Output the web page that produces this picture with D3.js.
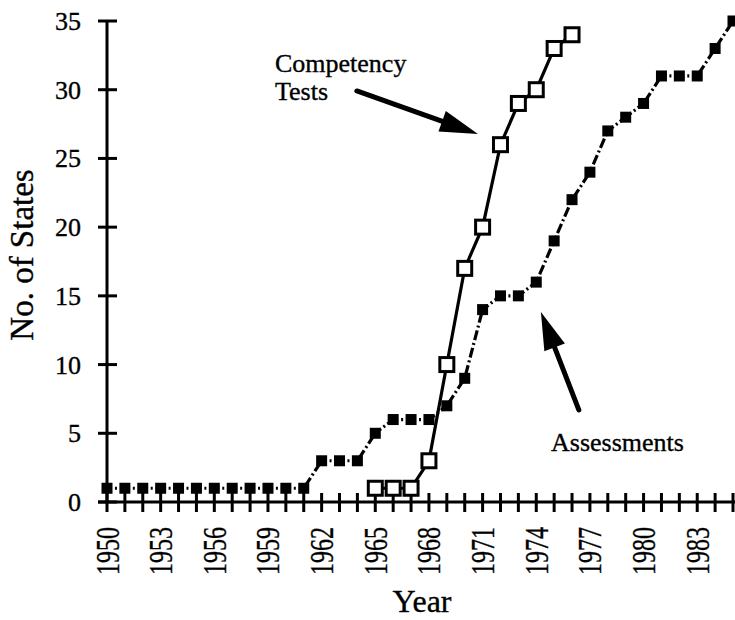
<!DOCTYPE html>
<html>
<head>
<meta charset="utf-8">
<script src="https://cdn.jsdelivr.net/npm/d3@7"></script>
<style>
  html, body { margin: 0; padding: 0; background: #fff; }
  text { font-family: 'Liberation Serif', 'Times New Roman', serif; fill: #000; stroke: #000; stroke-width: 0.35px; }
</style>
</head>
<body>
<div id="chart"></div>
<script>
// Data
const years = d3.range(1950, 1986);
const assessYears = d3.range(1950, 1986);
const assessValues = [1, 1, 1, 1, 1, 1, 1, 1, 1, 1, 1, 1, 3, 3, 3, 5, 6, 6, 6, 7,
  9, 14, 15, 15, 16, 19, 22, 24, 27, 28, 29, 31, 31, 31, 33, 35];
const compYears = d3.range(1965, 1977);
const compValues = [1, 1, 1, 3, 10, 17, 20, 26, 29, 30, 33, 34];
const yTicks = [0, 5, 10, 15, 20, 25, 30, 35];
const xLabelYears = [1950, 1953, 1956, 1959, 1962, 1965, 1968, 1971, 1974, 1977, 1980, 1983];

// Annotation arrows, in data units: [tail, tip]
const compArrow = [[1963.97, 29.91], [1970.74, 26.78]];
const assessArrow = [[1976.38, 6.70], [1974.26, 13.83]];

const width = 735, height = 620;
const svg = d3.select('#chart').append('svg')
  .attr('width', width)
  .attr('height', height);

const x = d3.scaleLinear().domain([1950, 1985]).range([107, 733]);
const y = d3.scaleLinear().domain([0, 35]).range([502, 21]);

// Axes (drawn by hand so ticks cross the line)
const axis = svg.append('g').attr('stroke', '#000').attr('stroke-width', 3);
axis.append('line')
  .attr('x1', x(1950)).attr('x2', x(1950))
  .attr('y1', y(35)).attr('y2', y(0));
axis.append('line')
  .attr('x1', x(1950) - 9).attr('x2', width)
  .attr('y1', y(0)).attr('y2', y(0));
axis.selectAll('.yt').data(yTicks).enter().append('line')
  .attr('x1', x(1950) - 9).attr('x2', x(1950) + 10)
  .attr('y1', d => y(d)).attr('y2', d => y(d));
axis.selectAll('.xt').data(years).enter().append('line')
  .attr('x1', d => x(d)).attr('x2', d => x(d))
  .attr('y1', y(0) - 9).attr('y2', y(0) + 10);

svg.selectAll('.ylab').data(yTicks).enter().append('text')
  .attr('x', 81)
  .attr('y', d => y(d))
  .attr('dy', 9)
  .attr('text-anchor', 'end')
  .attr('font-size', 26)
  .text(d => d);

svg.selectAll('.xlab').data(xLabelYears).enter().append('text')
  .attr('transform', d => `translate(${x(d)},527) rotate(-90)`)
  .attr('dy', 11.5)
  .attr('text-anchor', 'end')
  .attr('font-size', 34)
  .attr('textLength', 48)
  .attr('lengthAdjust', 'spacingAndGlyphs')
  .text(d => d);

svg.append('text')
  .attr('x', 422).attr('y', 612)
  .attr('text-anchor', 'middle')
  .attr('font-size', 32)
  .text('Year');

svg.append('text')
  .attr('transform', 'translate(33,255) rotate(-90)')
  .attr('text-anchor', 'middle')
  .attr('font-size', 33)
  .text('No. of States');

// Assessments: dash-dot segments, a dot centred between markers
const assessPts = assessYears.map((yr, i) => [x(yr), y(assessValues[i])]);
const period = 18;
svg.append('g').selectAll('line')
  .data(d3.pairs(assessPts))
  .enter().append('line')
  .attr('x1', d => d[0][0]).attr('y1', d => d[0][1])
  .attr('x2', d => d[1][0]).attr('y2', d => d[1][1])
  .attr('stroke', '#000')
  .attr('stroke-width', 3.2)
  .attr('stroke-dasharray', '2,3,10,3')
  .attr('stroke-dashoffset', d => {
    const len = Math.hypot(d[1][0] - d[0][0], d[1][1] - d[0][1]);
    return ((period - (len / 2 - 1)) % period + period) % period;
  });

svg.append('g').selectAll('rect')
  .data(assessPts)
  .enter().append('rect')
  .attr('x', d => d[0] - 5.5).attr('y', d => d[1] - 5.5)
  .attr('width', 11).attr('height', 11)
  .attr('fill', '#000');

// Competency tests: solid line, open squares
const compPts = compYears.map((yr, i) => [x(yr), y(compValues[i])]);
svg.append('path')
  .attr('d', d3.line()(compPts))
  .attr('fill', 'none')
  .attr('stroke', '#000')
  .attr('stroke-width', 3.2);

svg.append('g').selectAll('rect')
  .data(compPts)
  .enter().append('rect')
  .attr('x', d => d[0] - 7).attr('y', d => d[1] - 7)
  .attr('width', 14).attr('height', 14)
  .attr('fill', '#fff')
  .attr('stroke', '#000')
  .attr('stroke-width', 3);

// Arrows
function drawArrow(a) {
  const t = [x(a[0][0]), y(a[0][1])];
  const h = [x(a[1][0]), y(a[1][1])];
  const len = Math.hypot(h[0] - t[0], h[1] - t[1]);
  const ux = (h[0] - t[0]) / len, uy = (h[1] - t[1]) / len;
  const headLen = 38, half = 11;
  const bx = h[0] - ux * headLen, by = h[1] - uy * headLen;
  svg.append('line')
    .attr('x1', t[0]).attr('y1', t[1])
    .attr('x2', bx + ux * 4).attr('y2', by + uy * 4)
    .attr('stroke', '#000')
    .attr('stroke-width', 5)
    .attr('stroke-linecap', 'round');
  svg.append('polygon')
    .attr('points', [
      h,
      [bx - uy * half, by + ux * half],
      [bx + uy * half, by - ux * half]
    ].map(p => p.join(',')).join(' '))
    .attr('fill', '#000');
}
drawArrow(compArrow);
drawArrow(assessArrow);

svg.append('text')
  .attr('x', 275).attr('y', 72)
  .attr('font-size', 26)
  .text('Competency');
svg.append('text')
  .attr('x', 275).attr('y', 100)
  .attr('font-size', 26)
  .text('Tests');
svg.append('text')
  .attr('x', 551).attr('y', 451)
  .attr('font-size', 26)
  .text('Assessments');
</script>
</body>
</html>
